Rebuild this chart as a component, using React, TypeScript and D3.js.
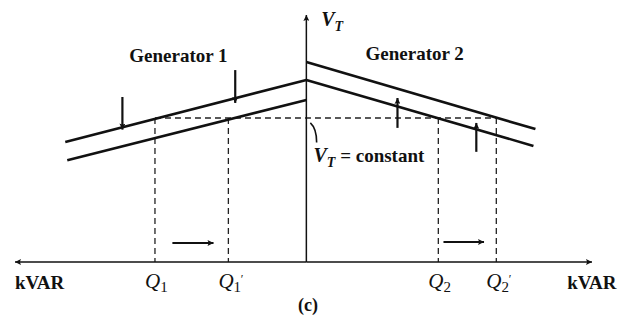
import { useEffect, useRef } from "react";
import * as d3 from "d3";

// kVAR axis (left = generator 1, right = generator 2) and terminal voltage
const kvarDomain = [-102, 100];
const voltDomain = [0, 100];
const vConstant = 58.3;

// droop lines: [kvar, volts] end points, before and after the change
const gen1Lines = [
  [[-84.4, 48.6], [0, 73.7]],
  [[-83.7, 41.2], [0, 65.6]],
];
const gen2Lines = [
  [[0, 81.0], [80.2, 53.8]],
  [[0, 73.7], [79.5, 47.0]],
];

const qMarks = [
  { sub: "1", prime: false, kvar: -53 },
  { sub: "1", prime: true, kvar: -27.3 },
  { sub: "2", prime: false, kvar: 46.2 },
  { sub: "2", prime: true, kvar: 66.5 },
];

// vertical arrows showing the set-point shift
const droopArrows = [
  { kvar: -64.4, from: 66.8, to: 53.6 },
  { kvar: -24.9, from: 77.7, to: 64.4 },
  { kvar: 31.9, from: 54.3, to: 66.4 },
  { kvar: 59.5, from: 44.6, to: 56.3 },
];

// horizontal arrows showing the kVAR shift
const shiftArrows = [
  { from: -46.9, to: -32.5, volts: 7.7 },
  { from: 48.0, to: 62.2, volts: 8.1 },
];

function App() {
  const svgRef = useRef(null);

  useEffect(() => {
    const width = 623;
    const height = 320;

    const svg = d3.select(svgRef.current);
    svg.selectAll("*").remove();
    svg.attr("width", width).attr("height", height);

    const x = d3.scaleLinear().domain(kvarDomain).range([15, 592]);
    const y = d3.scaleLinear().domain(voltDomain).range([262, 15]);

    const ink = "#111";
    const font = "'Liberation Serif', 'Times New Roman', serif";

    const defs = svg.append("defs");
    defs
      .append("marker")
      .attr("id", "head")
      .attr("viewBox", "0 0 10 10")
      .attr("refX", 10)
      .attr("refY", 5)
      .attr("markerWidth", 8)
      .attr("markerHeight", 6)
      .attr("markerUnits", "userSpaceOnUse")
      .attr("orient", "auto")
      .append("path")
      .attr("d", "M0,0 L10,5 L0,10 L2,5 Z")
      .attr("fill", ink);

    // dashed guides
    const guides = svg
      .append("g")
      .attr("stroke", "#222")
      .attr("stroke-width", 1.3)
      .attr("stroke-dasharray", "6 4");

    guides
      .append("line")
      .attr("x1", x(qMarks[0].kvar))
      .attr("x2", x(qMarks[3].kvar))
      .attr("y1", y(vConstant))
      .attr("y2", y(vConstant));

    guides
      .selectAll("line.q")
      .data(qMarks)
      .enter()
      .append("line")
      .attr("class", "q")
      .attr("x1", (d) => x(d.kvar))
      .attr("x2", (d) => x(d.kvar))
      .attr("y1", y(vConstant))
      .attr("y2", y(0));

    // axes
    const axes = svg.append("g").attr("stroke", ink).attr("stroke-width", 1.5);
    axes
      .append("line")
      .attr("x1", x(0))
      .attr("x2", x(kvarDomain[0]))
      .attr("y1", y(0))
      .attr("y2", y(0))
      .attr("marker-end", "url(#head)");
    axes
      .append("line")
      .attr("x1", x(0))
      .attr("x2", x(kvarDomain[1]))
      .attr("y1", y(0))
      .attr("y2", y(0))
      .attr("marker-end", "url(#head)");
    axes
      .append("line")
      .attr("x1", x(0))
      .attr("x2", x(0))
      .attr("y1", y(0))
      .attr("y2", y(voltDomain[1]))
      .attr("marker-end", "url(#head)");

    // droop characteristics
    const line = d3
      .line()
      .x((d) => x(d[0]))
      .y((d) => y(d[1]));

    svg
      .append("g")
      .selectAll("path")
      .data([...gen1Lines, ...gen2Lines])
      .enter()
      .append("path")
      .attr("d", (d) => line(d))
      .attr("fill", "none")
      .attr("stroke", ink)
      .attr("stroke-width", 2.6);

    // arrows
    const arrows = svg
      .append("g")
      .attr("stroke", ink)
      .attr("stroke-width", 2.2)
      .attr("marker-end", "url(#head)");

    arrows
      .selectAll("line.v")
      .data(droopArrows)
      .enter()
      .append("line")
      .attr("class", "v")
      .attr("x1", (d) => x(d.kvar))
      .attr("x2", (d) => x(d.kvar))
      .attr("y1", (d) => y(d.from))
      .attr("y2", (d) => y(d.to));

    arrows
      .selectAll("line.h")
      .data(shiftArrows)
      .enter()
      .append("line")
      .attr("class", "h")
      .attr("x1", (d) => x(d.from))
      .attr("x2", (d) => x(d.to))
      .attr("y1", (d) => y(d.volts))
      .attr("y2", (d) => y(d.volts));

    // leader for the constant-voltage label
    svg
      .append("path")
      .attr(
        "d",
        `M${x(1.4)},${y(56.3)} Q${x(3.6)},${y(54)} ${x(3.6)},${y(48.4)}`
      )
      .attr("fill", "none")
      .attr("stroke", ink)
      .attr("stroke-width", 1.6);

    // labels
    const text = svg
      .append("g")
      .attr("font-family", font)
      .attr("fill", ink);

    text
      .append("text")
      .attr("x", x(-62))
      .attr("y", y(81))
      .attr("font-size", 19)
      .attr("font-weight", "bold")
      .text("Generator 1");

    text
      .append("text")
      .attr("x", x(20.7))
      .attr("y", y(81.8))
      .attr("font-size", 19)
      .attr("font-weight", "bold")
      .text("Generator 2");

    const vt = text
      .append("text")
      .attr("x", x(5.2))
      .attr("y", y(95.5))
      .attr("font-size", 20)
      .attr("font-style", "italic")
      .attr("font-weight", "bold");
    vt.append("tspan").text("V");
    vt.append("tspan").attr("dy", 5).attr("font-size", 14).text("T");

    const vc = text
      .append("text")
      .attr("x", x(2.5))
      .attr("y", y(40.3))
      .attr("font-size", 19)
      .attr("font-weight", "bold");
    vc.append("tspan").attr("font-style", "italic").attr("font-size", 20).text("V");
    vc.append("tspan")
      .attr("dy", 5)
      .attr("font-size", 14)
      .attr("font-style", "italic")
      .text("T");
    vc.append("tspan").attr("dy", -5).text(" = constant");

    text
      .selectAll("text.q")
      .data(qMarks)
      .enter()
      .append("text")
      .attr("class", "q")
      .attr("x", (d) => x(d.kvar) - 10)
      .attr("y", y(-10.4))
      .attr("font-size", 21)
      .attr("font-style", "italic")
      .each(function (d) {
        const t = d3.select(this);
        t.append("tspan").text("Q");
        t.append("tspan")
          .attr("dy", 4)
          .attr("font-size", 15)
          .attr("font-style", "normal")
          .text(d.sub);
        if (d.prime) {
          t.append("tspan")
            .attr("dx", -1)
            .attr("dy", -9)
            .attr("font-size", 12)
            .text("′");
        }
      });

    text
      .append("text")
      .attr("x", x(kvarDomain[0]))
      .attr("y", y(-11))
      .attr("font-size", 19)
      .attr("font-weight", "bold")
      .text("kVAR");

    text
      .append("text")
      .attr("x", x(91.3))
      .attr("y", y(-11))
      .attr("font-size", 19)
      .attr("font-weight", "bold")
      .text("kVAR");

    text
      .append("text")
      .attr("x", x(0.6))
      .attr("y", y(-20))
      .attr("text-anchor", "middle")
      .attr("font-size", 18)
      .attr("font-weight", "bold")
      .text("(c)");
  }, []);

  return (
    <div
      style={{
        position: "absolute",
        left: 0,
        top: 0,
        width: 623,
        height: 320,
        background: "#fff",
      }}
    >
      <svg ref={svgRef}></svg>
    </div>
  );
}

export default App;
